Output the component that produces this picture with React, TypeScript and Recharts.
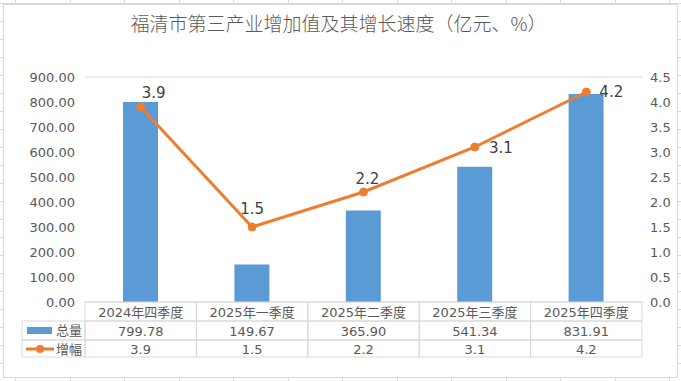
import { Bar, CartesianGrid, ComposedChart, LabelList, Line, XAxis, YAxis } from 'recharts'

const categories = ['2024年四季度', '2025年一季度', '2025年二季度', '2025年三季度', '2025年四季度']
const totals = [799.78, 149.67, 365.9, 541.34, 831.91]
const growth = [3.9, 1.5, 2.2, 3.1, 4.2]
const leftTicks = [0, 100, 200, 300, 400, 500, 600, 700, 800, 900]
const rightTicks = [0, 0.5, 1, 1.5, 2, 2.5, 3, 3.5, 4, 4.5]

const W = 681
const H = 381
const PLOT_LEFT = 85
const PLOT_RIGHT = 642
const PLOT_TOP = 77
const X_AXIS_H = 79
const TABLE_TOP = H - X_AXIS_H
const BAND = (PLOT_RIGHT - PLOT_LEFT) / categories.length
const GRID = '#d9d9d9'
const TEXT = '#595959'
const BLUE = '#5b9bd5'
const ORANGE = '#ed7d31'
const FONT = '"DejaVu Sans", "Noto Sans CJK SC", sans-serif'

// label offsets per point, like Excel's manual label placement
const labelOffsets = [
  [13, -14],
  [0, -18],
  [4, -13],
  [26, 1],
  [25, 0],
]

const data = categories.map((c, i) => ({ name: c, total: totals[i], growth: growth[i] }))

const rows = [
  { top: TABLE_TOP, h: 19 },
  { top: TABLE_TOP + 19, h: 19 },
  { top: TABLE_TOP + 38, h: 17 },
]

function TableTick(props: any) {
  const { x, payload } = props
  const i = payload.index
  const left = x - BAND / 2
  const cells = [categories[i], totals[i].toFixed(2), growth[i].toFixed(1)]
  return (
    <g>
      {rows.map((r, k) => (
        <g key={k}>
          <rect x={left} y={r.top} width={BAND} height={r.h} fill="none" stroke={GRID} />
          <text
            x={x}
            y={r.top + r.h / 2 + 5}
            textAnchor="middle"
            fontSize={13}
            fill={TEXT}
            fontFamily={FONT}
          >
            {cells[k]}
          </text>
        </g>
      ))}
      {i === 0 && (
        <g>
          <rect x={22} y={rows[1].top} width={left - 22} height={rows[1].h} fill="none" stroke={GRID} />
          <rect x={22} y={rows[2].top} width={left - 22} height={rows[2].h} fill="none" stroke={GRID} />
          <rect x={27} y={rows[1].top + 6} width={25} height={7} fill={BLUE} />
          <text x={56} y={rows[1].top + 14} fontSize={13} fill={TEXT} fontFamily={FONT}>
            总量
          </text>
          <line x1={26} x2={54} y1={rows[2].top + 9} y2={rows[2].top + 9} stroke={ORANGE} strokeWidth={3} />
          <circle cx={40} cy={rows[2].top + 9} r={4} fill={ORANGE} />
          <text x={56} y={rows[2].top + 14} fontSize={13} fill={TEXT} fontFamily={FONT}>
            增幅
          </text>
        </g>
      )}
    </g>
  )
}

function PointLabel(props: any) {
  const { x, y, value, index } = props
  const [dx, dy] = labelOffsets[index]
  return (
    <text
      x={x + dx}
      y={y + dy + 5}
      textAnchor="middle"
      fontSize={15}
      fill="#404040"
      fontFamily={FONT}
    >
      {Number(value).toFixed(1)}
    </text>
  )
}

export default function App() {
  return (
    <div
      style={{
        position: 'relative',
        width: W,
        height: H,
        background: '#fff',
        backgroundImage: `repeating-linear-gradient(90deg, transparent 0 15px, ${GRID} 15px 16px, transparent 16px 54.5px), repeating-linear-gradient(0deg, transparent 0 17px, ${GRID} 17px 18px)`,
        overflow: 'hidden',
      }}
    >
      <style>{'body{margin:0}'}</style>
      <div
        style={{
          position: 'absolute',
          left: 3,
          top: 4,
          width: 673,
          height: 372,
          background: '#fff',
          border: `1px solid ${GRID}`,
        }}
      />
      <div
        style={{
          position: 'absolute',
          left: 0,
          top: 9,
          width: W - 4,
          textAlign: 'center',
          fontSize: 19,
          color: TEXT,
          fontFamily: '"Noto Sans CJK SC", sans-serif',
          fontWeight: 300,
        }}
      >
        福清市第三产业增加值及其增长速度（亿元、%）
      </div>
      <div style={{ position: 'absolute', left: 0, top: 0 }}>
        <ComposedChart
          width={W}
          height={H}
          data={data}
          margin={{ top: PLOT_TOP, right: W - PLOT_RIGHT - 39, bottom: 0, left: 0 }}
          barCategoryGap={0}
        >
          <CartesianGrid vertical={false} stroke={GRID} />
          <XAxis
            dataKey="name"
            height={X_AXIS_H}
            axisLine={false}
            tickLine={false}
            tick={<TableTick />}
            interval={0}
          />
          <YAxis
            yAxisId="left"
            width={PLOT_LEFT}
            domain={[0, 900]}
            ticks={leftTicks}
            axisLine={false}
            tickLine={false}
            tickMargin={4}
            tickFormatter={(v) => (v as number).toFixed(2)}
            tick={{ fontSize: 13, fill: TEXT, fontFamily: FONT }}
          />
          <YAxis
            yAxisId="right"
            orientation="right"
            width={39}
            domain={[0, 4.5]}
            ticks={rightTicks}
            axisLine={false}
            tickLine={false}
            tickFormatter={(v) => (v as number).toFixed(1)}
            tick={{ fontSize: 13, fill: TEXT, fontFamily: FONT, textAnchor: 'start' }}
          />
          <Bar yAxisId="left" dataKey="total" fill={BLUE} barSize={35} isAnimationActive={false} />
          <Line
            yAxisId="right"
            dataKey="growth"
            stroke={ORANGE}
            strokeWidth={3}
            dot={{ r: 4, fill: ORANGE, stroke: ORANGE, strokeWidth: 1 }}
            isAnimationActive={false}
          >
            <LabelList dataKey="growth" content={<PointLabel />} />
          </Line>
        </ComposedChart>
      </div>
    </div>
  )
}
